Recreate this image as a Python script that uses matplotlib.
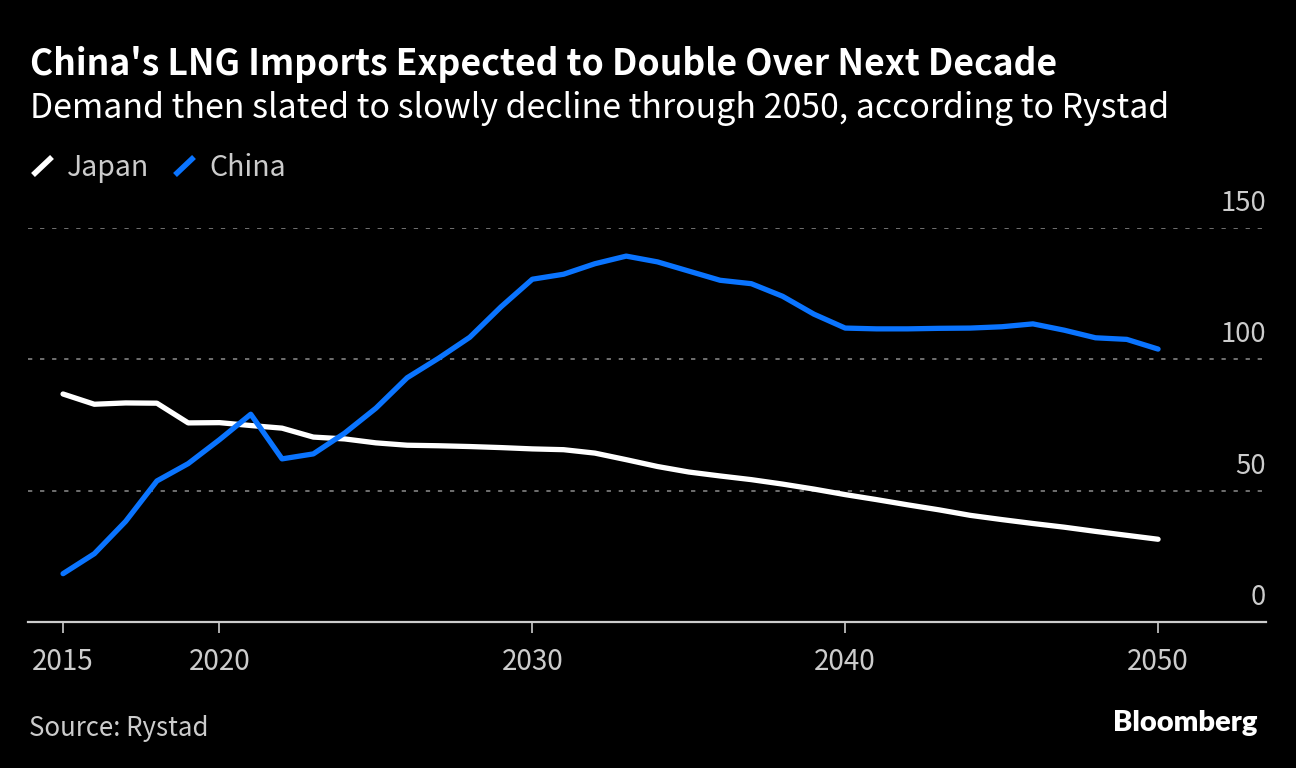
import matplotlib
matplotlib.use("Agg")
import matplotlib.pyplot as plt
from matplotlib.lines import Line2D
from matplotlib.transforms import ScaledTranslation

plt.rcParams['font.family'] = ['Noto Sans CJK SC', 'DejaVu Sans']

years = list(range(2015, 2051))
japan = [86.8, 82.9, 83.4, 83.3, 75.8, 75.9, 74.8, 73.8, 70.4, 69.7,
         68.2, 67.3, 67.1, 66.8, 66.4, 65.9, 65.6, 64.3, 61.8, 59.2,
         57.1, 55.6, 54.2, 52.5, 50.6, 48.5, 46.6, 44.6, 42.7, 40.6,
         39.0, 37.5, 36.1, 34.5, 33.0, 31.5]
china = [18.4, 26.0, 38.3, 53.7, 60.3, 69.4, 79.1, 62.1, 64.0, 71.9,
         81.4, 93.0, 100.4, 108.4, 120.0, 130.5, 132.4, 136.4, 139.3, 137.1,
         133.6, 130.1, 128.8, 124.0, 117.2, 111.9, 111.6, 111.6, 111.8, 111.9,
         112.4, 113.5, 111.1, 108.2, 107.6, 103.9]
y_ticks = [0, 50, 100, 150]
x_ticks = [2015, 2020, 2030, 2040, 2050]

W, H = 1296, 768
BLUE = '#0a74ff'
GRAY = '#cccccc'


def fx(px):
    return px / W


def fy(py):
    return 1 - py / H


fig = plt.figure(figsize=(W / 100, H / 100), dpi=100, facecolor='black')
ax = fig.add_axes([fx(28), fy(622), fx(1266) - fx(28), fy(228) - fy(622)])
ax.set_facecolor('black')

# y labels sit above their gridlines, right aligned
lift = ScaledTranslation(0, 17 / 100, fig.dpi_scale_trans)
for v in y_ticks:
    if v > 0:
        ax.axhline(v, color='#707070', lw=1.4, ls=(0, (2.2, 4.0)), zorder=1)
    ax.text(1.0, v, str(v), transform=ax.get_yaxis_transform() + lift, ha='right',
            va='baseline', fontsize=19.8, color=GRAY)

ax.plot(years, japan, color='white', lw=3.8, solid_capstyle='round', solid_joinstyle='round', zorder=3)
ax.plot(years, china, color=BLUE, lw=3.8, solid_capstyle='round', solid_joinstyle='round', zorder=4)

ax.set_xlim(2013.88, 2053.45)
ax.set_ylim(0, 150)
ax.set_xticks(x_ticks)
ax.set_yticks([])
ax.tick_params(axis='x', colors=GRAY, labelsize=20, length=8, width=1.2, pad=10)
for s in ['top', 'right', 'left']:
    ax.spines[s].set_visible(False)
ax.spines['bottom'].set_color(GRAY)
ax.spines['bottom'].set_linewidth(1.6)

fig.text(fx(30), fy(75), "China's LNG Imports Expected to Double Over Next Decade",
         fontsize=25.6, fontweight='bold', color='white', va='baseline')
fig.text(fx(30), fy(118), "Demand then slated to slowly decline through 2050, according to Rystad",
         fontsize=24.35, color='white', va='baseline')

# legend
fig.lines.append(Line2D([fx(33), fx(52)], [fy(175), fy(157)], transform=fig.transFigure,
                        color='white', lw=4, solid_capstyle='butt'))
fig.text(fx(67), fy(175.7), 'Japan', fontsize=20.5, color=GRAY, va='baseline')
fig.lines.append(Line2D([fx(175), fx(194)], [fy(175), fy(157)], transform=fig.transFigure,
                        color=BLUE, lw=4, solid_capstyle='butt'))
fig.text(fx(209), fy(175.7), 'China', fontsize=20.5, color=GRAY, va='baseline')

fig.text(fx(29), fy(735.7), 'Source: Rystad', fontsize=18.6, color=GRAY, va='baseline')
fig.text(fx(1257), fy(730.7), 'Bloomberg', fontsize=21, fontweight='heavy',
         color='white', ha='right', va='baseline', family=['Lato', 'DejaVu Sans'])

fig.savefig('out.png', dpi=100, facecolor='black')
